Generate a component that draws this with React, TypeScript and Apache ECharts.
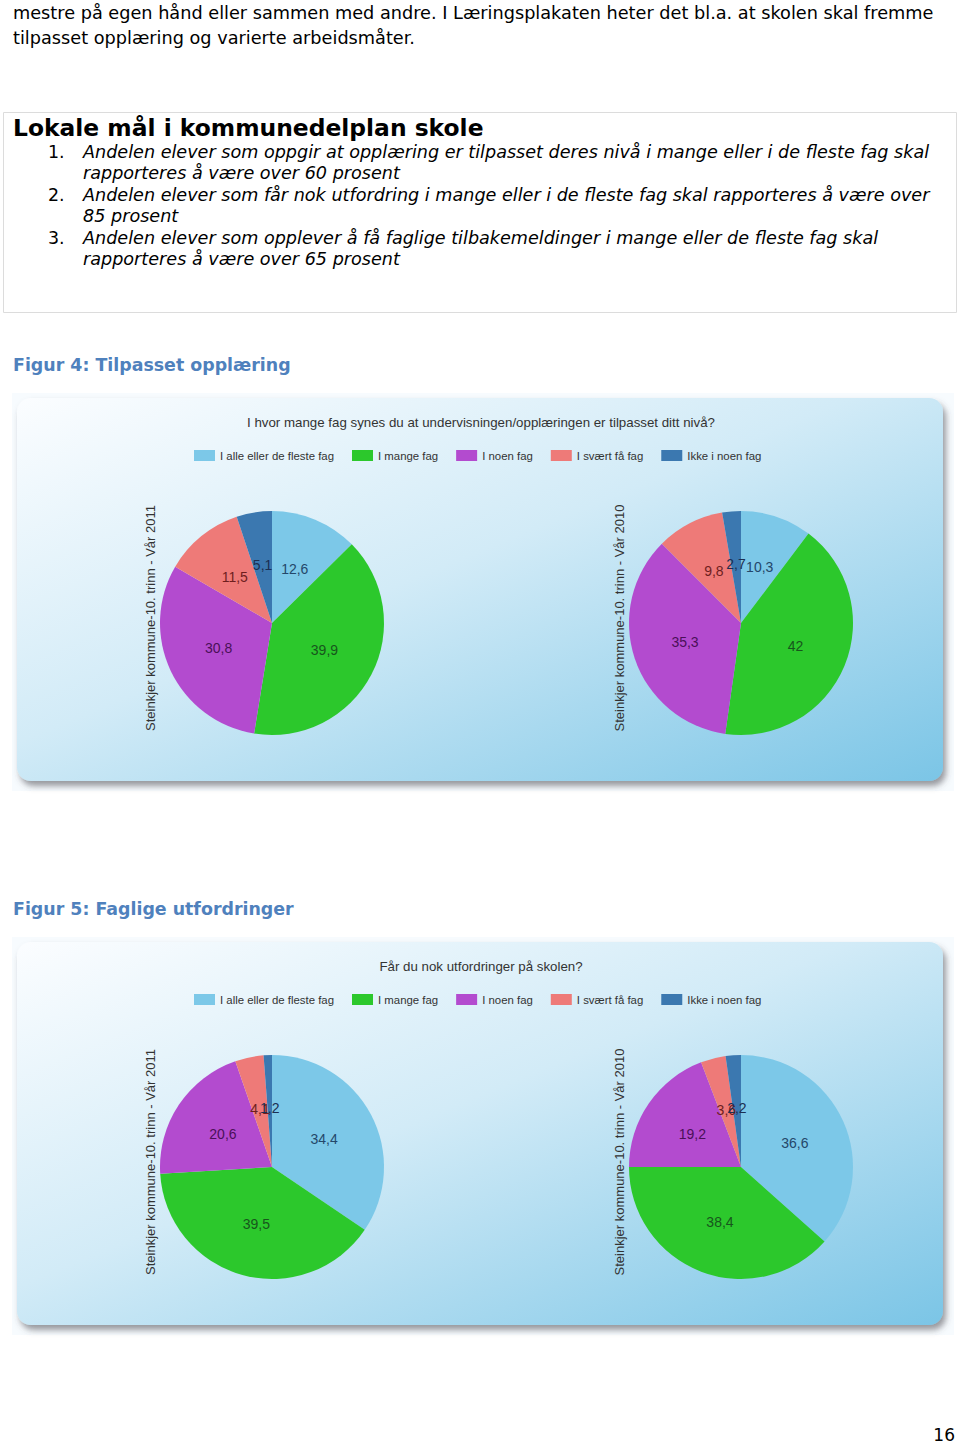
import React, { useEffect, useRef } from "react";
import * as echarts from "echarts";

const categories = ["I alle eller de fleste fag", "I mange fag", "I noen fag", "I svært få fag", "Ikke i noen fag"];
const sliceColors = ["#7cc8e8", "#2cc82c", "#b34bcf", "#ee7a78", "#3b78b0"];
const labelColors = ["#24476a", "#17561c", "#4a1058", "#6e1e1e", "#1c2f52"];

const fig4Title = "I hvor mange fag synes du at undervisningen/opplæringen er tilpasset ditt nivå?";
const fig5Title = "Får du nok utfordringer på skolen?";
const label2011 = "Steinkjer kommune-10. trinn - Vår 2011";
const label2010 = "Steinkjer kommune-10. trinn - Vår 2010";

const fig4Values2011 = [12.6, 39.9, 30.8, 11.5, 5.1];
const fig4Values2010 = [10.3, 42, 35.3, 9.8, 2.7];
const fig5Values2011 = [34.4, 39.5, 20.6, 4.1, 1.2];
const fig5Values2010 = [36.6, 38.4, 19.2, 3.6, 2.2];

const introLines = [
  "mestre på egen hånd eller sammen med andre. I Læringsplakaten heter det bl.a. at skolen skal fremme",
  "tilpasset opplæring og varierte arbeidsmåter.",
];
const goalsHeading = "Lokale mål i kommunedelplan skole";
const goalLines = [
  ["1.", "Andelen elever som oppgir at opplæring er tilpasset deres nivå i mange eller i de fleste fag skal"],
  ["", "rapporteres å være over 60 prosent"],
  ["2.", "Andelen elever som får nok utfordring i mange eller i de fleste fag skal rapporteres å være over"],
  ["", "85 prosent"],
  ["3.", "Andelen elever som opplever å få faglige tilbakemeldinger i mange eller de fleste fag skal"],
  ["", "rapporteres å være over 65 prosent"],
];
const fig4Caption = "Figur 4: Tilpasset opplæring";
const fig5Caption = "Figur 5: Faglige utfordringer";
const pageNumber = "16";

const BODY = "DejaVu Sans, Verdana, sans-serif";
const NARROW = "'Liberation Sans', Arial, sans-serif";

function makePie(values: number[], cx: number, cy: number) {
  return {
    type: "pie",
    center: [cx, cy],
    radius: [0, 112],
    startAngle: 90,
    clockwise: true,
    avoidLabelOverlap: false,
    labelLayout: { hideOverlap: false },
    z: 5,
    label: {
      show: true,
      position: "inside",
      rotate: 0,
      fontFamily: NARROW,
      fontSize: 14,
      formatter: (p: any) => String(p.value).replace(".", ","),
    },
    labelLine: { show: false },
    emphasis: { disabled: true },
    data: values.map((v, i) => ({
      name: categories[i],
      value: v,
      itemStyle: { color: sliceColors[i], borderWidth: 0 },
      label: { color: labelColors[i] },
    })),
  };
}

function panel(y: number) {
  return [
    {
      type: "rect",
      z: 0,
      shape: { x: 12, y: y - 5, width: 942, height: 398 },
      style: { fill: "#f7fbfe" },
    },
    {
      type: "rect",
      z: 1,
      shape: { x: 17, y, width: 926, height: 383, r: 14 },
      style: {
        fill: new echarts.graphic.LinearGradient(0, 0, 1, 1, [
          { offset: 0, color: "#fbfdff" },
          { offset: 0.45, color: "#d2ebf7" },
          { offset: 1, color: "#7bc5e6" },
        ]),
        shadowBlur: 6,
        shadowOffsetX: 3,
        shadowOffsetY: 5,
        shadowColor: "rgba(70,70,80,0.55)",
      },
    },
  ];
}

function vLabel(text: string, x: number, y: number) {
  return {
    type: "text",
    z: 3,
    x,
    y,
    rotation: Math.PI / 2,
    style: {
      text,
      font: "13px 'Liberation Sans', Arial, sans-serif",
      fill: "#333",
      align: "center",
      verticalAlign: "middle",
    },
  };
}

export default function App() {
  const ref = useRef<HTMLDivElement>(null);
  useEffect(() => {
    if (!ref.current) return;
    const chart = echarts.init(ref.current, undefined, { renderer: "svg" });
    const elements: any[] = [];
    introLines.forEach((t, i) => {
      elements.push({
        type: "text",
        x: 13,
        y: 13 + i * 25,
        style: { text: t, font: `17.7px ${BODY}`, fill: "#000", verticalAlign: "middle" },
      });
    });
    elements.push({
      type: "rect",
      shape: { x: 3.5, y: 112.5, width: 953, height: 200 },
      style: { fill: "none", stroke: "#dcdcdc", lineWidth: 1 },
    });
    elements.push({
      type: "text",
      x: 13,
      y: 128,
      style: { text: goalsHeading, font: `bold 23.4px ${BODY}`, fill: "#000", verticalAlign: "middle" },
    });
    goalLines.forEach(([n, t], i) => {
      const y = 152 + i * 21.4;
      if (n)
        elements.push({
          type: "text",
          x: 48,
          y,
          style: { text: n, font: `17.4px ${BODY}`, fill: "#000", verticalAlign: "middle" },
        });
      elements.push({
        type: "text",
        x: 83,
        y,
        style: { text: t, font: `italic 17.6px ${BODY}`, fill: "#000", verticalAlign: "middle" },
      });
    });
    elements.push({
      type: "text",
      x: 13,
      y: 365,
      style: { text: fig4Caption, font: `bold 17.4px ${BODY}`, fill: "#4f81bd", verticalAlign: "middle" },
    });
    elements.push({
      type: "text",
      x: 13,
      y: 909,
      style: { text: fig5Caption, font: `bold 17.4px ${BODY}`, fill: "#4f81bd", verticalAlign: "middle" },
    });
    elements.push({
      type: "text",
      x: 955,
      y: 1435,
      style: { text: pageNumber, font: `17px ${BODY}`, fill: "#000", align: "right", verticalAlign: "middle" },
    });
    elements.push(...panel(398), ...panel(942));
    elements.push(vLabel(label2011, 150, 618), vLabel(label2010, 619, 618));
    elements.push(vLabel(label2011, 150, 1162), vLabel(label2010, 619, 1162));

    const legendCommon = {
      left: 189,
      icon: "rect",
      itemWidth: 21,
      itemHeight: 11,
      itemGap: 18,
      data: categories,
      selectedMode: false,
      textStyle: { fontFamily: NARROW, fontSize: 11.4, color: "#333" },
    };

    chart.setOption({
      animation: false,
      title: [
        {
          text: fig4Title,
          left: 476,
          textAlign: "center",
          top: 411,
          textStyle: { fontFamily: NARROW, fontSize: 13.3, fontWeight: "normal", color: "#333" },
        },
        {
          text: fig5Title,
          left: 476,
          textAlign: "center",
          top: 955,
          textStyle: { fontFamily: NARROW, fontSize: 13.3, fontWeight: "normal", color: "#333" },
        },
      ],
      legend: [
        { ...legendCommon, top: 445 },
        { ...legendCommon, top: 989 },
      ],
      graphic: { elements },
      series: [
        makePie(fig4Values2011, 272, 623),
        makePie(fig4Values2010, 741, 623),
        makePie(fig5Values2011, 272, 1167),
        makePie(fig5Values2010, 741, 1167),
      ],
    });
    return () => chart.dispose();
  }, []);
  return (
    <div
      ref={ref}
      style={{ position: "absolute", left: 0, top: 0, width: 960, height: 1444, background: "#fff" }}
    />
  );
}
